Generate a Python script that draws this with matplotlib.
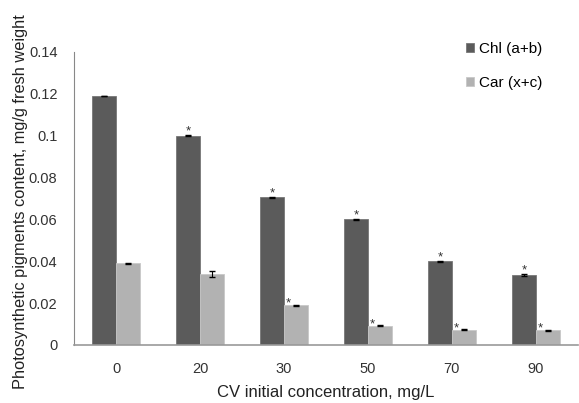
import matplotlib
matplotlib.use("Agg")
import matplotlib.pyplot as plt
import numpy as np

plt.rcParams['font.family'] = ['Liberation Sans', 'DejaVu Sans']

categories = ["0", "20", "30", "50", "70", "90"]
chl = [0.119, 0.100, 0.0705, 0.060, 0.040, 0.0335]
car = [0.039, 0.034, 0.019, 0.0093, 0.0073, 0.0070]
chl_err = [0.0002, 0.0003, 0.0002, 0.0003, 0.0002, 0.0006]
car_err = [0.0002, 0.0015, 0.0003, 0.0002, 0.0002, 0.0003]
chl_sig = [False, True, True, True, True, True]
car_sig = [False, False, True, True, True, True]
yticks = [0, 0.02, 0.04, 0.06, 0.08, 0.1, 0.12, 0.14]
ytick_labels = ["0", "0.02", "0.04", "0.06", "0.08", "0.1", "0.12", "0.14"]

fig = plt.figure(figsize=(5.79, 4.03), dpi=100)
ax = fig.add_axes([0.128, 0.144, 0.870, 0.727])

x = np.arange(len(categories))
w = 0.285
dark = "#5b5b5b"
light = "#b2b2b2"
ax.bar(x - w/2, chl, w, color=dark, edgecolor="#777777", linewidth=0.6,
       yerr=chl_err, error_kw=dict(ecolor="black", capsize=2.2, elinewidth=0.8, capthick=1.0),
       label="Chl (a+b)")
ax.bar(x + w/2, car, w, color=light, edgecolor="#c8c8c8", linewidth=0.6,
       yerr=car_err, error_kw=dict(ecolor="black", capsize=2.2, elinewidth=0.8, capthick=1.0),
       label="Car (x+c)")

for i in range(len(categories)):
    if chl_sig[i]:
        ax.text(x[i] - w/2, chl[i] + chl_err[i] + 0.0015, "*", ha="center", va="center",
                fontsize=9.5, color="#333333")
    if car_sig[i]:
        ax.text(x[i] + w/2 - 0.09, car[i] + car_err[i] + 0.0005, "*", ha="center", va="center",
                fontsize=9.5, color="#333333")

ax.set_xlim(-0.5, len(categories) - 0.5)
ax.set_ylim(0, 0.14)
ax.set_yticks(yticks)
ax.set_yticklabels(ytick_labels)
ax.set_xticks(x)
ax.set_xticklabels(categories)
ax.tick_params(axis='both', length=0, labelsize=10.5, colors="#333333")
ax.tick_params(axis='y', pad=12)
ax.tick_params(axis='x', pad=12)
for s in ["top", "right"]:
    ax.spines[s].set_visible(False)
ax.spines["left"].set_color("#888888")
ax.spines["bottom"].set_color("#999999")
ax.spines["bottom"].set_linewidth(1.2)

ax.set_xlabel("CV initial concentration, mg/L", fontsize=12, color="#222222", labelpad=7)
fig.text(0.035, 0.5, "Photosynthetic pigments content, mg/g fresh weight", rotation=90,
         ha="center", va="center", fontsize=11.8, color="#222222")

leg = ax.legend(loc="upper left", bbox_to_anchor=(0.75, 1.08), frameon=False, fontsize=11,
                handlelength=0.55, handleheight=0.55, handletextpad=0.35, labelspacing=1.3)

fig.savefig("out.png", dpi=100)
